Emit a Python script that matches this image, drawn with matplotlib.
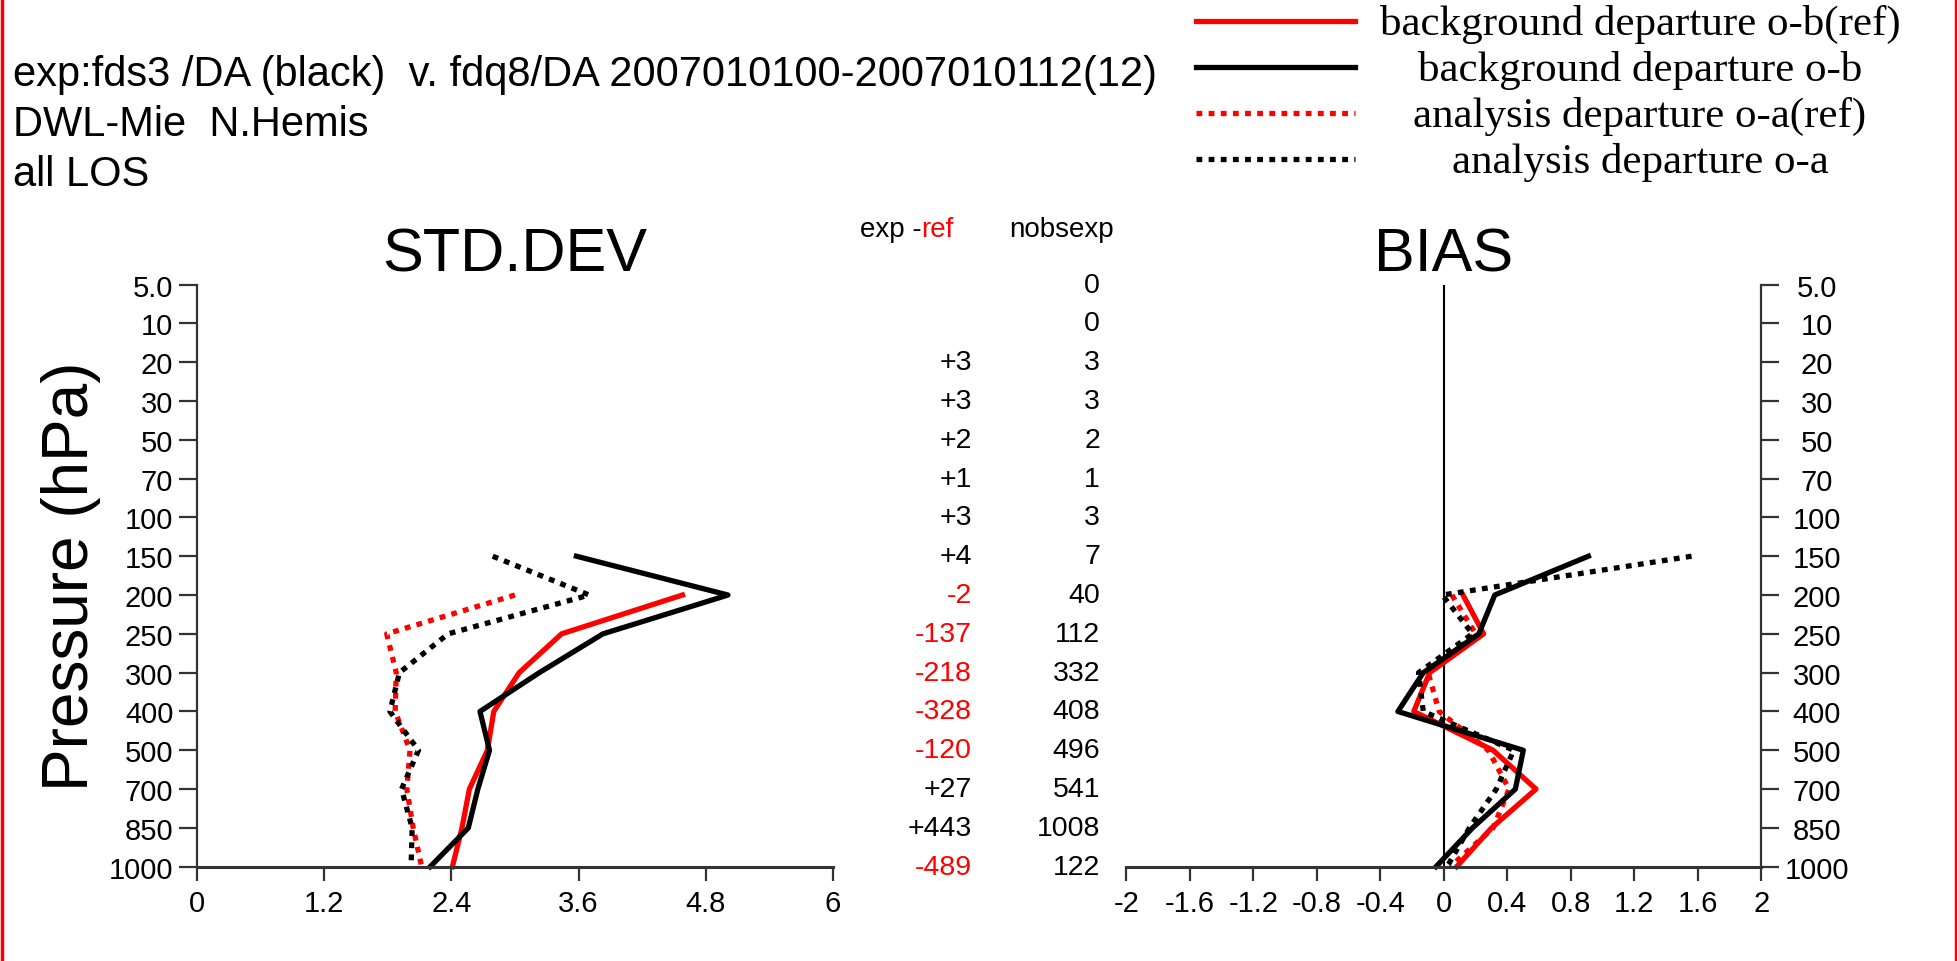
import matplotlib
matplotlib.use("Agg")
import matplotlib.pyplot as plt
import matplotlib.transforms as mtransforms
from matplotlib.lines import Line2D

plt.rcParams["font.family"] = ["Liberation Sans", "DejaVu Sans"]

# pressure levels, top to bottom
levels = ["5.0", "10", "20", "30", "50", "70", "100", "150", "200",
          "250", "300", "400", "500", "700", "850", "1000"]
lev_exp = list(range(7, 16))   # 150 .. 1000 hPa
lev_ref = list(range(8, 16))   # 200 .. 1000 hPa

# STD.DEV
std_ob_ref = [4.58, 3.44, 3.04, 2.80, 2.74, 2.57, 2.50, 2.41]
std_ob = [3.58, 5.01, 3.83, 3.23, 2.67, 2.76, 2.65, 2.56, 2.20]
std_oa_ref = [3.00, 1.79, 1.88, 1.87, 2.01, 1.98, 2.04, 2.12]
std_oa = [2.79, 3.70, 2.37, 1.91, 1.82, 2.09, 1.93, 2.03, 2.02]

# BIAS
bias_ob_ref = [0.12, 0.25, -0.09, -0.19, 0.31, 0.58, 0.30, 0.08]
bias_ob = [0.91, 0.32, 0.22, -0.13, -0.29, 0.50, 0.45, 0.18, -0.05]
bias_oa_ref = [0.05, 0.20, -0.10, -0.03, 0.28, 0.41, 0.31, 0.04]
bias_oa = [1.56, -0.01, 0.18, -0.16, -0.13, 0.44, 0.33, 0.16, 0.02]

# number of observations
exp_minus_ref = [None, None, 3, 3, 2, 1, 3, 4, -2, -137, -218, -328, -120, 27, 443, -489]
nobs_exp = [0, 0, 3, 3, 2, 1, 3, 7, 40, 112, 332, 408, 496, 541, 1008, 122]

std_xticks = [0, 1.2, 2.4, 3.6, 4.8, 6]
std_xlabels = ["0", "1.2", "2.4", "3.6", "4.8", "6"]
bias_xticks = [-2, -1.6, -1.2, -0.8, -0.4, 0, 0.4, 0.8, 1.2, 1.6, 2]
bias_xlabels = ["-2", "-1.6", "-1.2", "-0.8", "-0.4", "0", "0.4", "0.8", "1.2", "1.6", "2"]

header = ["exp:fds3 /DA (black)  v. fdq8/DA 2007010100-2007010112(12)",
          "DWL-Mie  N.Hemis",
          "all LOS"]
legend_labels = ["background departure o-b(ref)", "background departure o-b",
                 "analysis departure o-a(ref)", "analysis departure o-a"]

RED = "#ff0000"
LW = 3.8
DOT = (0, (1.1, 1.2))
SPINE = "#333333"

fig = plt.figure(figsize=(19.58, 9.62), dpi=100)
ax1 = fig.add_axes([0.1006, 0.098, 0.3248, 0.6052])
ax2 = fig.add_axes([0.5753, 0.098, 0.3243, 0.6052])

# --- STD.DEV panel
ax1.plot(std_ob_ref, lev_ref, color=RED, lw=LW, clip_on=False)
ax1.plot(std_oa_ref, lev_ref, color=RED, lw=LW, ls=DOT, clip_on=False)
ax1.plot(std_ob, lev_exp, color="black", lw=LW, clip_on=False)
ax1.plot(std_oa, lev_exp, color="black", lw=LW, ls=DOT, clip_on=False)
ax1.set_xlim(0, 6)
ax1.set_xticks(std_xticks)
ax1.set_xticklabels(std_xlabels)
ax1.set_title("STD.DEV", fontsize=44, pad=10)
ax1.set_ylabel("Pressure (hPa)", fontsize=46, labelpad=6)
for s in ["top", "right"]:
    ax1.spines[s].set_visible(False)

# --- BIAS panel
ax2.axvline(0, color="black", lw=1.5)
ax2.plot(bias_ob_ref, lev_ref, color=RED, lw=LW, clip_on=False)
ax2.plot(bias_oa_ref, lev_ref, color=RED, lw=LW, ls=DOT, clip_on=False)
ax2.plot(bias_ob, lev_exp, color="black", lw=LW, clip_on=False)
ax2.plot(bias_oa, lev_exp, color="black", lw=LW, ls=DOT, clip_on=False)
ax2.set_xlim(-2, 2)
ax2.set_xticks(bias_xticks)
ax2.set_xticklabels(bias_xlabels)
ax2.set_title("BIAS", fontsize=44, pad=10)
for s in ["top", "left"]:
    ax2.spines[s].set_visible(False)
ax2.yaxis.tick_right()

for ax in (ax1, ax2):
    ax.set_ylim(15, 0)
    ax.set_yticks(range(len(levels)))
    ax.set_yticklabels(levels)
    ax.spines["bottom"].set_linewidth(2.2)
    ax.spines["bottom"].set_color(SPINE)
    ax.spines["left"].set_linewidth(1.6)
    ax.spines["right"].set_linewidth(1.6)
    ax.spines["left"].set_color(SPINE)
    ax.spines["right"].set_color(SPINE)
    ax.tick_params(axis="x", length=10, width=1.6, color=SPINE, labelsize=21, pad=6)
    ax.tick_params(axis="y", length=13, width=1.6, color=SPINE, labelsize=21, pad=4)

ax2.tick_params(axis="y", pad=27)
for lab in ax2.get_yticklabels():
    lab.set_horizontalalignment("center")

# --- obs count columns
trans = mtransforms.blended_transform_factory(fig.transFigure, ax1.transData)
for i in range(len(levels)):
    d = exp_minus_ref[i]
    if d is not None:
        fig.text(0.4963, i, f"{d:+d}", transform=trans, ha="right", va="center",
                 fontsize=20.5, color=RED if d < 0 else "black")
    fig.text(0.5618, i, f"{nobs_exp[i]}", transform=trans, ha="right", va="center",
             fontsize=20.5)
fig.text(0.4705, 0.761, "exp -", ha="right", va="center", fontsize=20)
fig.text(0.4705, 0.761, "ref", ha="left", va="center", fontsize=20, color=RED)
fig.text(0.5421, 0.761, "nobsexp", ha="center", va="center", fontsize=20)

# --- header text
for k, line in enumerate(header):
    fig.text(0.0064, 1 - (75 + 50 * k) / 962, line, ha="left", va="center", fontsize=30)

# --- legend drawn by hand
leg_styles = [(RED, "-"), ("black", "-"), (RED, DOT), ("black", DOT)]
for k, ((c, ls), lab) in enumerate(zip(leg_styles, legend_labels)):
    y = 1 - (22 + 46 * k) / 962
    fig.add_artist(Line2D([0.6108, 0.692], [y, y], color=c, lw=3.8, ls=ls,
                          transform=fig.transFigure))
    fig.text(0.8376, y - 0.003, lab, ha="center", va="center", fontsize=31,
             family=["Liberation Serif", "DejaVu Serif"])

# red frame on the sides
for x in (0.0008, 0.9992):
    fig.add_artist(Line2D([x, x], [0, 1], color=RED, lw=2.5, transform=fig.transFigure))

fig.savefig("out.png", dpi=100)
